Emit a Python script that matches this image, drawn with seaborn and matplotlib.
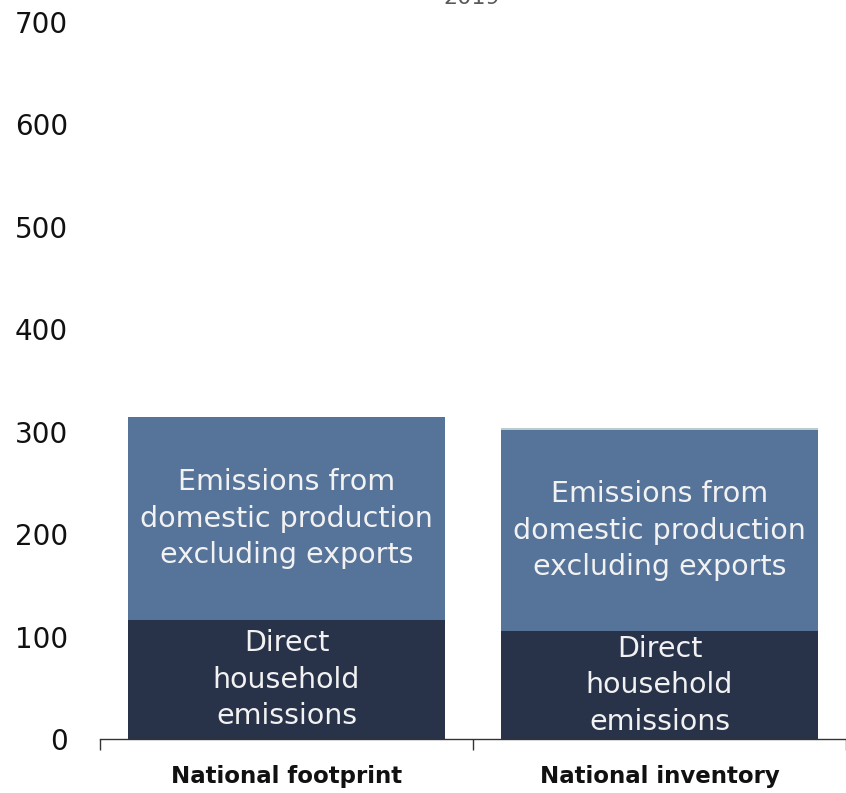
import matplotlib
matplotlib.use("Agg")
import matplotlib.pyplot as plt
import seaborn as sns
import pandas as pd
import numpy as np

categories = ["National footprint", "National inventory"]
direct_household = [116, 105]
domestic_production = [198, 197]
other = [0, 2]
segment_labels = ["Direct\nhousehold\nemissions", "Emissions from\ndomestic production\nexcluding exports"]
yticks = [0, 100, 200, 300, 400, 500, 600, 700]
title = "2019"

sns.set_theme(style="white")
plt.rcParams['font.family'] = ['DejaVu Sans']

df = pd.DataFrame({
    "cat": categories,
    "direct": direct_household,
    "domestic": domestic_production,
    "other": other,
})
df["cum1"] = df["direct"]
df["cum2"] = df["direct"] + df["domestic"]
df["cum3"] = df["cum2"] + df["other"]

c_dark = "#283249"
c_blue = "#56749a"
c_light = "#b9cccb"

fig = plt.figure(figsize=(8.46, 7.93), dpi=100)
ax = fig.add_axes([100/846, 1-739/793, 746/846, (739-22)/793])

for col, colr in [("cum3", c_light), ("cum2", c_blue), ("cum1", c_dark)]:
    sns.barplot(data=df, x="cat", y=col, color=colr, width=0.85, ax=ax,
                saturation=1, linewidth=0, edgecolor="none")

for i in range(len(categories)):
    ax.text(i, df["cum1"][i] / 2, segment_labels[0], ha="center", va="center",
            color="#f2f2f2", fontsize=20.5, linespacing=1.38)
    ax.text(i, df["cum1"][i] + df["domestic"][i] / 2, segment_labels[1], ha="center", va="center",
            color="#f2f2f2", fontsize=20.5, linespacing=1.38)

ax.set_xlim(-0.5, 1.5)
ax.set_ylim(0, 700)
ax.set_yticks(yticks)
ax.set_yticklabels([str(v) for v in yticks], fontsize=20, color="#111111")
ax.tick_params(axis="y", length=0, pad=23)
ax.set_xlabel("")
ax.set_ylabel("")
ax.set_xticks(range(len(categories)))
ax.set_xticklabels(categories, fontsize=16.5, fontweight="bold", color="#111111")
ax.tick_params(axis="x", which="major", length=0, pad=19)
ax.set_xticks([-0.5, 0.5, 1.5], minor=True)
ax.tick_params(axis="x", which="minor", length=8, width=1, color="#333333", direction="out", bottom=True)
for s in ["left", "top", "right"]:
    ax.spines[s].set_visible(False)
ax.spines["bottom"].set_color("#333333")
ax.spines["bottom"].set_linewidth(1)

fig.text(472/846, 1 - (-2)/793, title, ha="center", va="center", fontsize=16, color="#595959")

fig.savefig("out.png", dpi=100)
